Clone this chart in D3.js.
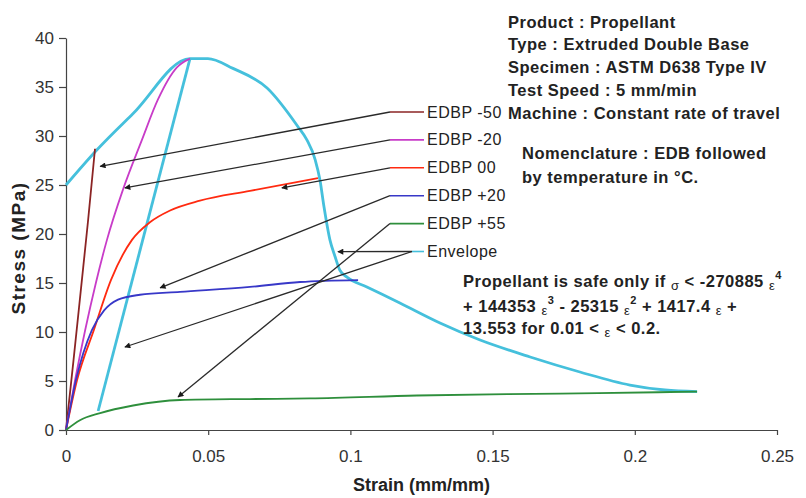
<!DOCTYPE html>
<html>
<head>
  <meta charset="utf-8">
  <script src="https://d3js.org/d3.v7.min.js"></script>
  <style>
    body { margin: 0; background: #fff; }
    svg text { font-family: Arial, "Liberation Sans", sans-serif; fill: #222; }
    .axis path, .axis line { stroke: #444; stroke-width: 1.2; }
    .axis text { font-size: 17px; fill: #333; font-family: Arial, "Liberation Sans", sans-serif; }
    .title { font-weight: bold; font-size: 18px; }
    .info { font-weight: bold; font-size: 16.5px; letter-spacing: 0.5px; }
    .lbl { font-size: 16px; letter-spacing: 0.5px; }
  </style>
</head>
<body>
<script>
  // ---- data (strain mm/mm, stress MPa) ----
  var strainTicks = [0, 0.05, 0.1, 0.15, 0.2, 0.25];
  var stressTicks = [0, 5, 10, 15, 20, 25, 30, 35, 40];

  var edbpM50 = [[0, 0], [0.0026, 7.0], [0.0053, 14.5], [0.0077, 21.2], [0.0102, 28.7]];
  var edbpM20 = [[0, 0], [0.0032, 5.1], [0.0105, 15.0], [0.0144, 19.4], [0.0200, 24.5], [0.0267, 29.6],
                 [0.0323, 33.7], [0.0390, 37.0], [0.0436, 37.9]];
  var edbp00 = [[0, 0], [0.0039, 5.1], [0.0098, 10.2], [0.0158, 15.3], [0.0232, 19.4], [0.0295, 21.2],
                [0.0366, 22.4], [0.0471, 23.4], [0.0647, 24.4], [0.0886, 25.7]];
  var edbpP20 = [[0, 0], [0.0035, 5.1], [0.0091, 10.2], [0.0134, 12.2], [0.0183, 13.3], [0.0260, 13.8],
                 [0.0401, 14.1], [0.0647, 14.6], [0.0823, 15.1], [0.1027, 15.3]];
  var edbpP55 = [[0, 0], [0.0049, 1.0], [0.0120, 1.73], [0.0236, 2.5], [0.0401, 3.06], [0.0647, 3.16],
                 [0.0858, 3.22], [0.1234, 3.52], [0.1737, 3.72], [0.2082, 3.85], [0.2219, 3.91]];
  var envelope = [[0, 25.0], [0.0109, 28.6], [0.0236, 32.3], [0.0436, 37.9], [0.0499, 37.9], [0.0587, 36.9],
                  [0.0707, 34.9], [0.0812, 31.1], [0.0847, 29.6], [0.0876, 27.6], [0.0893, 25.5],
                  [0.0907, 22.8], [0.0928, 19.4], [0.0946, 17.7], [0.0963, 16.3], [0.0988, 15.6],
                  [0.1058, 14.6], [0.1174, 12.96], [0.1315, 10.92], [0.1456, 9.18], [0.1632, 7.45],
                  [0.1807, 5.92], [0.1983, 4.59], [0.2106, 4.08], [0.2219, 3.91]];
  var envelopeRise = [[0.0113, 1.94], [0.0436, 37.9]];

  var seriesNames = ["EDBP -50", "EDBP -20", "EDBP 00", "EDBP +20", "EDBP +55", "Envelope"];

  // arrows: legend row -> point on curve
  var arrowFrom = [0, 1, 2, 3, 4, 5, 5];
  var arrowTipStrain = [0.0120, 0.0207, 0.0759, 0.0331, 0.0394, 0.0956, 0.0207];
  var arrowTipStress = [26.9, 24.7, 24.7, 14.5, 3.37, 18.2, 8.47];

  var infoLines = ["Product : Propellant", "Type : Extruded Double Base", "Specimen : ASTM D638 Type IV",
                   "Test Speed : 5 mm/min", "Machine : Constant rate of travel"];
  var nomenLines = ["Nomenclature : EDB followed", "by temperature in \u00B0C."];

  // ---- setup ----
  var width = 806, height = 498;
  var colors = ["#8b2424", "#c83cc8", "#ff2a10", "#3838c8", "#2e8f3c", "#45c0dc"];

  var svg = d3.select("body").append("svg")
    .attr("width", width).attr("height", height);

  var x = d3.scaleLinear().domain([0, 0.25]).range([66, 777]);
  var y = d3.scaleLinear().domain([0, 40]).range([430, 38]);

  var defs = svg.append("defs");
  defs.append("marker")
    .attr("id", "arrow")
    .attr("viewBox", "0 0 10 10")
    .attr("refX", 9).attr("refY", 5)
    .attr("markerWidth", 8).attr("markerHeight", 6)
    .attr("markerUnits", "userSpaceOnUse")
    .attr("orient", "auto")
    .append("path").attr("d", "M0,0L10,5L0,10z").attr("fill", "#1a1a1a");

  // axes
  svg.append("g").attr("class", "axis")
    .attr("transform", "translate(0," + y(0) + ")")
    .call(d3.axisBottom(x).tickValues(strainTicks).tickSize(5).tickSizeOuter(0)
      .tickPadding(15).tickFormat(function(d) { return String(d); }));

  svg.append("g").attr("class", "axis")
    .attr("transform", "translate(" + x(0) + ",0)")
    .call(d3.axisLeft(y).tickValues(stressTicks).tickSize(7).tickSizeOuter(0).tickPadding(5));

  svg.append("text").attr("class", "title")
    .attr("x", x(0.125)).attr("y", 491)
    .attr("text-anchor", "middle")
    .text("Strain (mm/mm)");

  svg.append("text").attr("class", "title")
    .attr("transform", "translate(25,248) rotate(-90)")
    .attr("text-anchor", "middle")
    .style("font-size", "19px").style("letter-spacing", "1.5px")
    .text("Stress (MPa)");

  // curves
  var line = d3.line()
    .x(function(d) { return x(d[0]); })
    .y(function(d) { return y(d[1]); })
    .curve(d3.curveMonotoneX);

  svg.append("path").attr("d", line(envelope))
    .attr("fill", "none").attr("stroke", colors[5]).attr("stroke-width", 2.8);
  svg.append("path").attr("d", line(envelopeRise))
    .attr("fill", "none").attr("stroke", colors[5]).attr("stroke-width", 2.8);

  var series = [edbpM50, edbpM20, edbp00, edbpP20, edbpP55];
  series.forEach(function(s, i) {
    svg.append("path").attr("d", line(s))
      .attr("fill", "none").attr("stroke", colors[i]).attr("stroke-width", 1.8);
  });

  // legend with leader arrows
  var legX = 390, legTextX = 427, legY0 = 112, legStep = 27.9;
  seriesNames.forEach(function(name, i) {
    var ly = legY0 + i * legStep;
    var sx = i === 5 ? 412 : legX;
    svg.append("line")
      .attr("x1", sx).attr("x2", 424).attr("y1", ly).attr("y2", ly)
      .attr("stroke", colors[i]).attr("stroke-width", 1.6);
    svg.append("text").attr("class", "lbl")
      .attr("x", legTextX).attr("y", ly + 5.5)
      .text(name);
  });

  arrowFrom.forEach(function(row, i) {
    var ly = legY0 + row * legStep;
    var sx = row === 5 ? 412 : legX;
    svg.append("line")
      .attr("x1", sx).attr("y1", ly)
      .attr("x2", x(arrowTipStrain[i])).attr("y2", y(arrowTipStress[i]))
      .attr("stroke", "#2a2a2a").attr("stroke-width", 1.3)
      .attr("marker-end", "url(#arrow)");
  });

  // text blocks
  infoLines.forEach(function(t, i) {
    svg.append("text").attr("class", "info")
      .attr("x", 508).attr("y", 27.5 + i * 22.75).text(t);
  });
  nomenLines.forEach(function(t, i) {
    svg.append("text").attr("class", "info")
      .attr("x", 522).attr("y", 158.5 + i * 24).text(t);
  });

  // safety criterion with greek symbols and powers
  var crit = [
    [["t", "Propellant is safe only if "], ["g", "\u03C3"], ["t", " < -270885 "], ["g", "\u03B5"], ["s", "4"]],
    [["t", "+ 144353 "], ["g", "\u03B5"], ["s", "3"], ["t", " - 25315 "], ["g", "\u03B5"], ["s", "2"],
     ["t", " + 1417.4 "], ["g", "\u03B5"], ["t", " +"]],
    [["t", "13.553 for 0.01 < "], ["g", "\u03B5"], ["t", " < 0.2."]]
  ];
  var critY = [287, 312, 334];
  crit.forEach(function(parts, i) {
    var t = svg.append("text").attr("class", "info")
      .attr("x", 463).attr("y", critY[i])
      .attr("xml:space", "preserve");
    parts.forEach(function(p) {
      var sp = t.append("tspan").text(p[1]);
      if (p[0] === "g") {
        sp.attr("y", critY[i] + 3).style("font-size", "13px").style("font-weight", "normal");
      } else if (p[0] === "s") {
        sp.attr("y", critY[i] - 8).style("font-size", "11px");
      } else {
        sp.attr("y", critY[i]);
      }
    });
  });
</script>
</body>
</html>
